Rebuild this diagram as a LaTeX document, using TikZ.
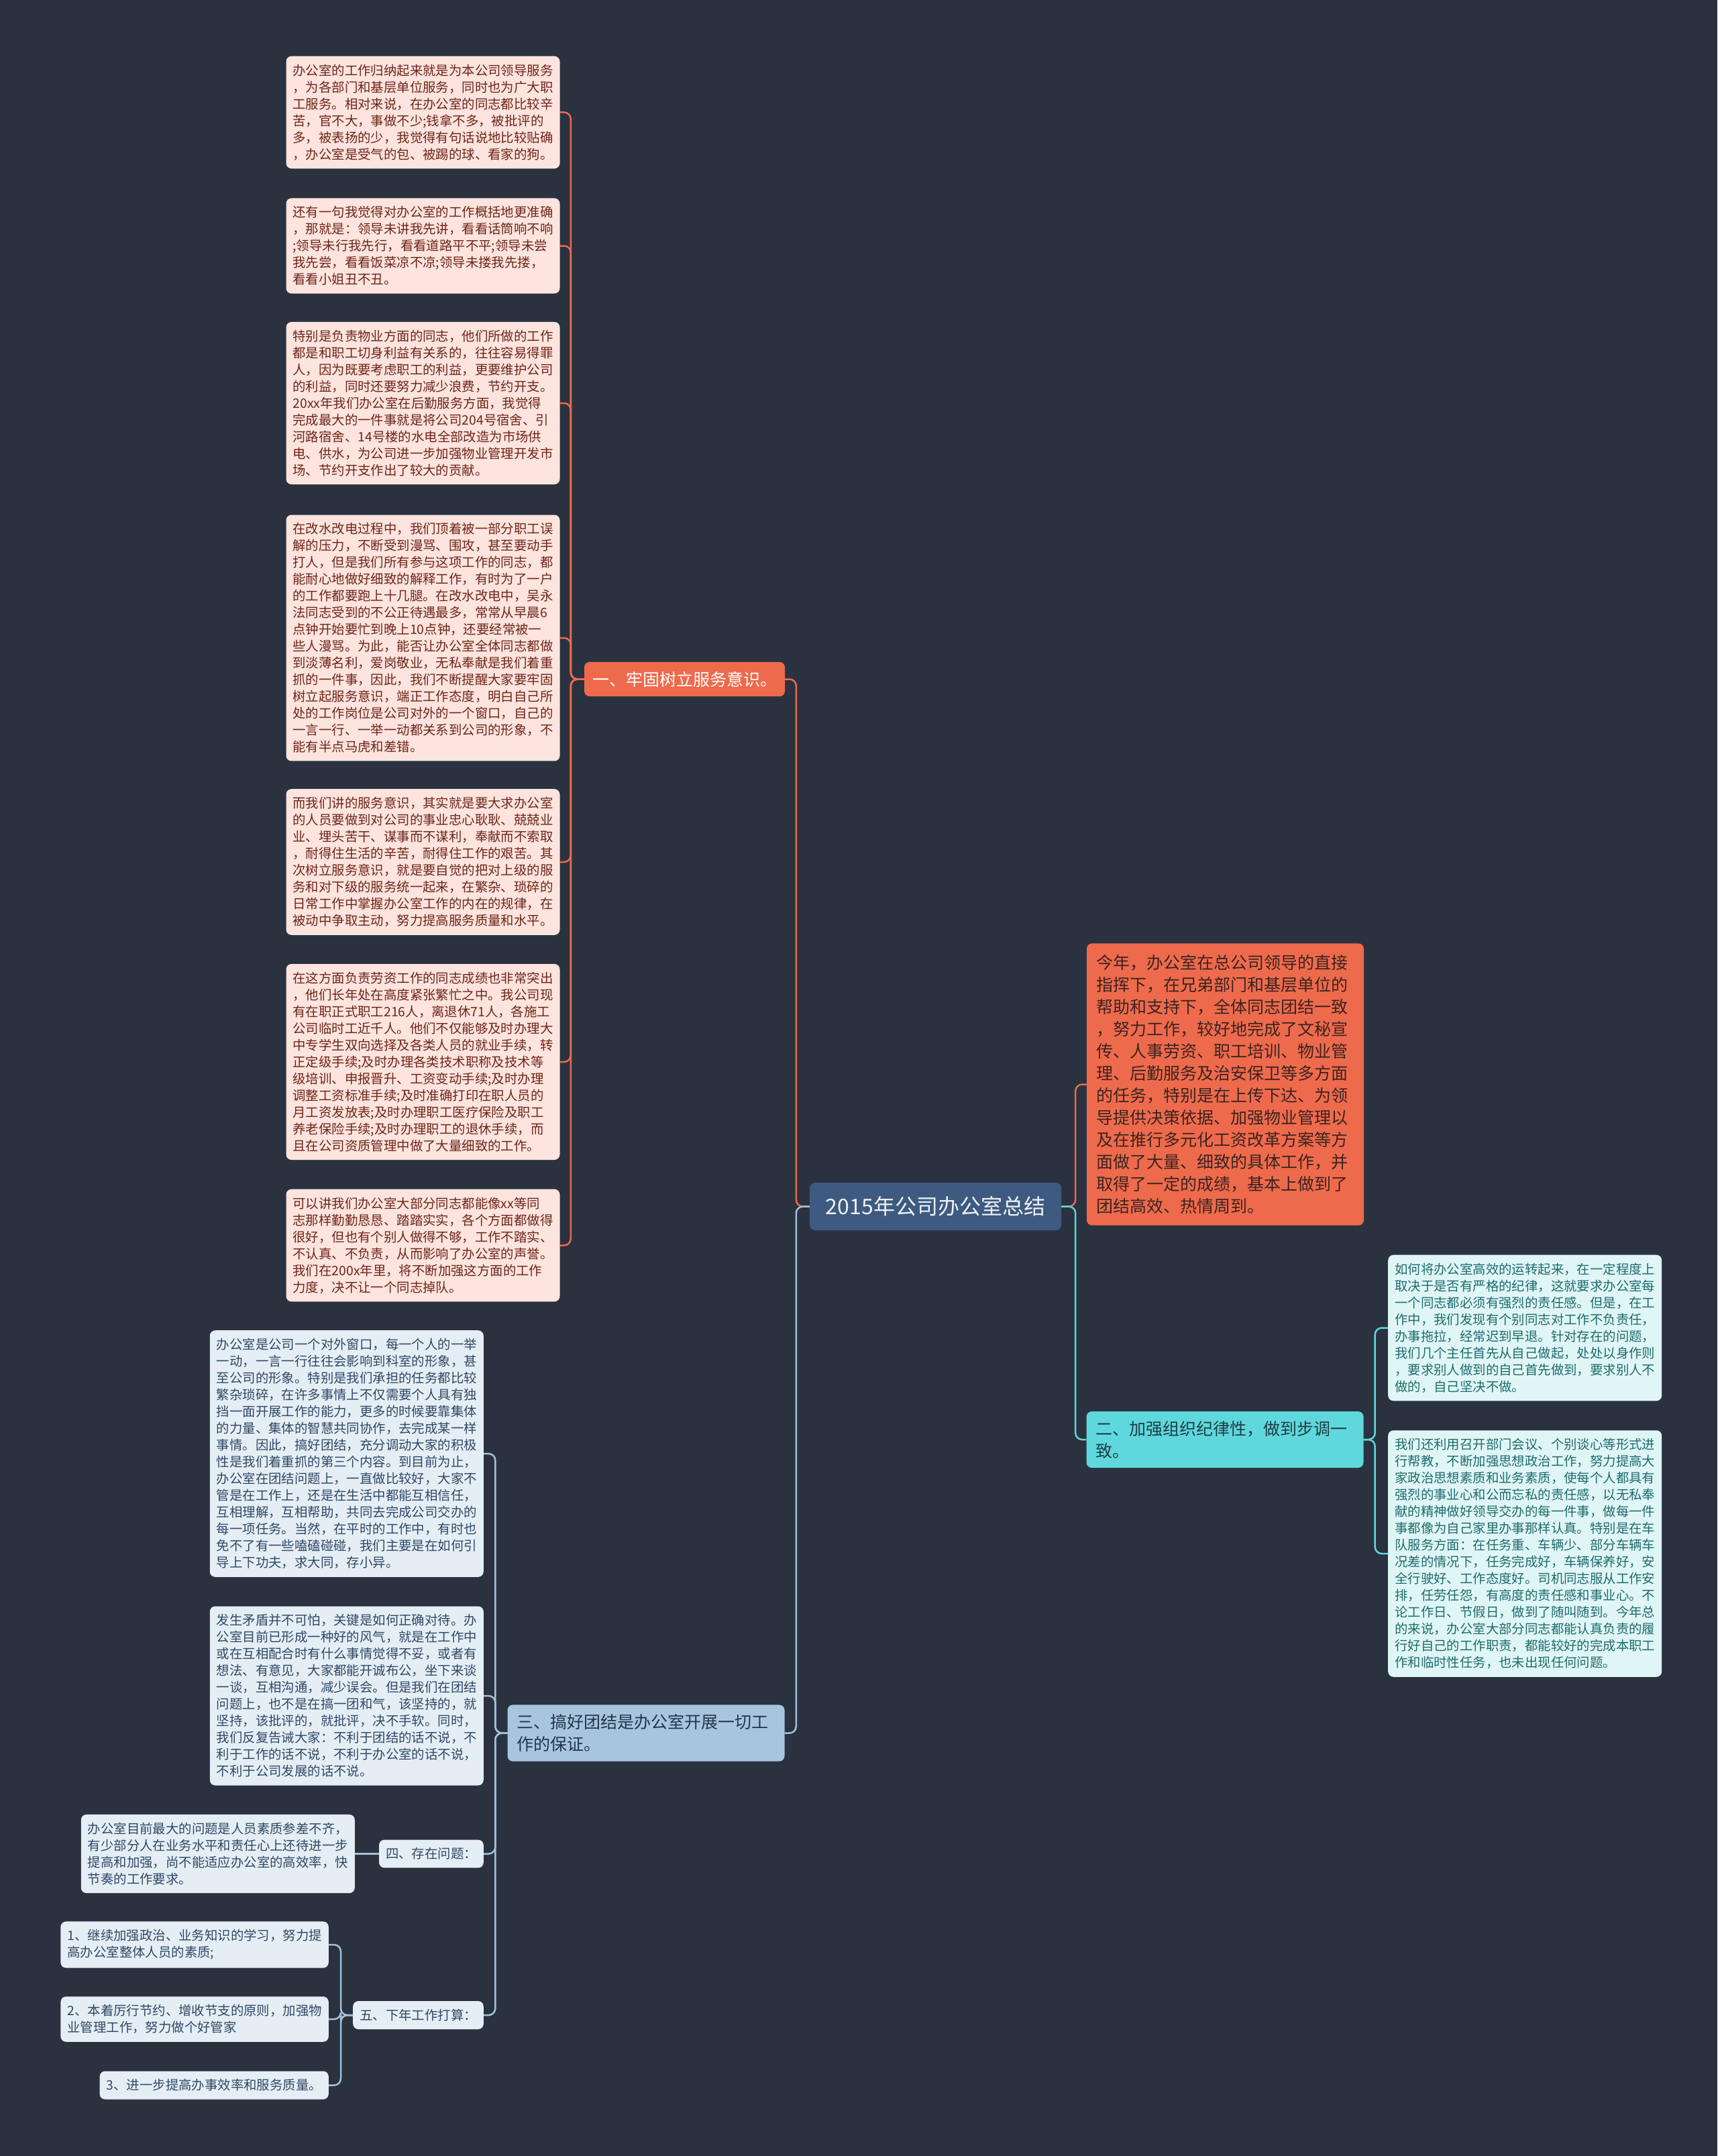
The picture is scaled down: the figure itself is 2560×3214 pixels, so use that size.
\documentclass[tikz,border=0pt]{standalone}
\usepackage{fontspec}
\newfontfamily\cjk{Noto Sans CJK SC}
\definecolor{bg}{HTML}{2A3240}
\definecolor{pinkfill}{HTML}{FDE4DE}
\definecolor{pinktext}{HTML}{6E2518}
\definecolor{orangeA}{HTML}{EE6A4C}
\definecolor{orangetext}{HTML}{3A2420}
\definecolor{rootfill}{HTML}{3E5A80}
\definecolor{roottext}{HTML}{EEF2F7}
\definecolor{cyanA}{HTML}{5ED8DC}
\definecolor{cyanfill}{HTML}{E0F6F6}
\definecolor{cyantext}{HTML}{1E6B6E}
\definecolor{cyanlabel}{HTML}{1F3D44}
\definecolor{bluefill}{HTML}{A8C5DF}
\definecolor{bluelabel}{HTML}{24364A}
\definecolor{bluebox}{HTML}{E6EEF5}
\definecolor{bluetext}{HTML}{2D4966}
\definecolor{blueline}{HTML}{A4C1DB}
\tikzset{
  base/.style={rounded corners=8pt, align=left},
  small/.style={font=\cjk\fontsize{19.4}{25}\selectfont, inner xsep=10pt, inner ysep=12pt},
  big/.style={font=\cjk\fontsize{25}{33}\selectfont, inner xsep=14pt, inner ysep=14pt},
  pinkbox/.style={base, small, fill=pinkfill, text=pinktext, text width=388pt},
  cyanbox/.style={base, small, fill=cyanfill, text=cyantext, text width=388pt},
  bluebox/.style={base, small, fill=bluebox, text=bluetext},
  bluewide/.style={bluebox, text width=388pt},
  rootbox/.style={rounded corners=8pt, fill=rootfill, text=roottext, font=\cjk\fontsize{32}{38}\selectfont, minimum width=375pt, minimum height=71pt, inner sep=0pt},
  br1/.style={base, big, fill=orangeA, text=white, inner xsep=12pt, inner ysep=14pt},
  mainbox/.style={base, big, fill=orangeA, text=orangetext, text width=385pt, inner ysep=17pt},
  br2/.style={base, big, fill=cyanA, text=cyanlabel, text width=385pt},
  br3/.style={base, big, fill=bluefill, text=bluelabel, text width=385pt},
  conn/.style={line width=2.5pt, rounded corners=10pt},
  oline/.style={conn, draw=orangeA},
  cline/.style={conn, draw=cyanA},
  bline/.style={conn, draw=blueline},
}
\begin{document}
\begin{tikzpicture}[x=1pt,y=-1pt]
\useasboundingbox (0,0) rectangle (2560,3214);
\fill[bg] (0,0) rectangle (2560,3214);

% root
\node[rootbox] (root) at (1394.5,1798.5) {2015年公司办公室总结};

% branch 1
\node[br1] (b1) at (1020.5,1012.5) {一、牢固树立服务意识。};

\node[pinkbox] (p1) at (630.5,167.5) {办公室的工作归纳起来就是为本公司领导服务\\，为各部门和基层单位服务，同时也为广大职\\工服务。相对来说，在办公室的同志都比较辛\\苦，官不大，事做不少;钱拿不多，被批评的\\多，被表扬的少，我觉得有句话说地比较贴确\\，办公室是受气的包、被踢的球、看家的狗。};
\node[pinkbox] (p2) at (630.5,366.5) {还有一句我觉得对办公室的工作概括地更准确\\，那就是：领导未讲我先讲，看看话筒响不响\\;领导未行我先行，看看道路平不平;领导未尝\\我先尝，看看饭菜凉不凉;领导未搂我先搂，\\看看小姐丑不丑。};
\node[pinkbox] (p3) at (630.5,601) {特别是负责物业方面的同志，他们所做的工作\\都是和职工切身利益有关系的，往往容易得罪\\人，因为既要考虑职工的利益，更要维护公司\\的利益，同时还要努力减少浪费，节约开支。\\20xx年我们办公室在后勤服务方面，我觉得\\完成最大的一件事就是将公司204号宿舍、引\\河路宿舍、14号楼的水电全部改造为市场供\\电、供水，为公司进一步加强物业管理开发市\\场、节约开支作出了较大的贡献。};
\node[pinkbox] (p4) at (630.5,951) {在改水改电过程中，我们顶着被一部分职工误\\解的压力，不断受到漫骂、围攻，甚至要动手\\打人，但是我们所有参与这项工作的同志，都\\能耐心地做好细致的解释工作，有时为了一户\\的工作都要跑上十几腿。在改水改电中，吴永\\法同志受到的不公正待遇最多，常常从早晨6\\点钟开始要忙到晚上10点钟，还要经常被一\\些人漫骂。为此，能否让办公室全体同志都做\\到淡薄名利，爱岗敬业，无私奉献是我们着重\\抓的一件事，因此，我们不断提醒大家要牢固\\树立起服务意识，端正工作态度，明白自己所\\处的工作岗位是公司对外的一个窗口，自己的\\一言一行、一举一动都关系到公司的形象，不\\能有半点马虎和差错。};
\node[pinkbox] (p5) at (630.5,1285) {而我们讲的服务意识，其实就是要大求办公室\\的人员要做到对公司的事业忠心耿耿、兢兢业\\业、埋头苦干、谋事而不谋利，奉献而不索取\\，耐得住生活的辛苦，耐得住工作的艰苦。其\\次树立服务意识，就是要自觉的把对上级的服\\务和对下级的服务统一起来，在繁杂、琐碎的\\日常工作中掌握办公室工作的内在的规律，在\\被动中争取主动，努力提高服务质量和水平。};
\node[pinkbox] (p6) at (630.5,1583) {在这方面负责劳资工作的同志成绩也非常突出\\，他们长年处在高度紧张繁忙之中。我公司现\\有在职正式职工216人，离退休71人，各施工\\公司临时工近千人。他们不仅能够及时办理大\\中专学生双向选择及各类人员的就业手续，转\\正定级手续;及时办理各类技术职称及技术等\\级培训、申报晋升、工资变动手续;及时办理\\调整工资标准手续;及时准确打印在职人员的\\月工资发放表;及时办理职工医疗保险及职工\\养老保险手续;及时办理职工的退休手续，而\\且在公司资质管理中做了大量细致的工作。};
\node[pinkbox] (p7) at (630.5,1856.5) {可以讲我们办公室大部分同志都能像xx等同\\志那样勤勤恳恳、踏踏实实，各个方面都做得\\很好，但也有个别人做得不够，工作不踏实、\\不认真、不负责，从而影响了办公室的声誉。\\我们在200x年里，将不断加强这方面的工作\\力度，决不让一个同志掉队。};

% right side
\node[mainbox] (m) at (1826.5,1616.5) {今年，办公室在总公司领导的直接\\指挥下，在兄弟部门和基层单位的\\帮助和支持下，全体同志团结一致\\，努力工作，较好地完成了文秘宣\\传、人事劳资、职工培训、物业管\\理、后勤服务及治安保卫等多方面\\的任务，特别是在上传下达、为领\\导提供决策依据、加强物业管理以\\及在推行多元化工资改革方案等方\\面做了大量、细致的具体工作，并\\取得了一定的成绩，基本上做到了\\团结高效、热情周到。};
\node[br2] (b2) at (1826,2146) {二、加强组织纪律性，做到步调一\\致。};
\node[cyanbox, anchor=west] (c1) at (2069,1979.5) {如何将办公室高效的运转起来，在一定程度上\\取决于是否有严格的纪律，这就要求办公室每\\一个同志都必须有强烈的责任感。但是，在工\\作中，我们发现有个别同志对工作不负责任，\\办事拖拉，经常迟到早退。针对存在的问题，\\我们几个主任首先从自己做起，处处以身作则\\，要求别人做到的自己首先做到，要求别人不\\做的，自己坚决不做。};
\node[cyanbox, anchor=west] (c2) at (2069,2316) {我们还利用召开部门会议、个别谈心等形式进\\行帮教，不断加强思想政治工作，努力提高大\\家政治思想素质和业务素质，使每个人都具有\\强烈的事业心和公而忘私的责任感，以无私奉\\献的精神做好领导交办的每一件事，做每一件\\事都像为自己家里办事那样认真。特别是在车\\队服务方面：在任务重、车辆少、部分车辆车\\况差的情况下，任务完成好，车辆保养好，安\\全行驶好、工作态度好。司机同志服从工作安\\排，任劳任怨，有高度的责任感和事业心。不\\论工作日、节假日，做到了随叫随到。今年总\\的来说，办公室大部分同志都能认真负责的履\\行好自己的工作职责，都能较好的完成本职工\\作和临时性任务，也未出现任何问题。};

% branch 3
\node[br3] (b3) at (963,2583.5) {三、搞好团结是办公室开展一切工\\作的保证。};
\node[bluewide, anchor=east] (d1) at (721,2167) {办公室是公司一个对外窗口，每一个人的一举\\一动，一言一行往往会影响到科室的形象，甚\\至公司的形象。特别是我们承担的任务都比较\\繁杂琐碎，在许多事情上不仅需要个人具有独\\挡一面开展工作的能力，更多的时候要靠集体\\的力量、集体的智慧共同协作，去完成某一样\\事情。因此，搞好团结，充分调动大家的积极\\性是我们着重抓的第三个内容。到目前为止，\\办公室在团结问题上，一直做比较好，大家不\\管是在工作上，还是在生活中都能互相信任，\\互相理解，互相帮助，共同去完成公司交办的\\每一项任务。当然，在平时的工作中，有时也\\免不了有一些嗑磕碰碰，我们主要是在如何引\\导上下功夫，求大同，存小异。};
\node[bluewide, anchor=east] (d2) at (721,2528) {发生矛盾并不可怕，关键是如何正确对待。办\\公室目前已形成一种好的风气，就是在工作中\\或在互相配合时有什么事情觉得不妥，或者有\\想法、有意见，大家都能开诚布公，坐下来谈\\一谈，互相沟通，减少误会。但是我们在团结\\问题上，也不是在搞一团和气，该坚持的，就\\坚持，该批评的，就批评，决不手软。同时，\\我们反复告诫大家：不利于团结的话不说，不\\利于工作的话不说，不利于办公室的话不说，\\不利于公司发展的话不说。};
\node[bluebox, anchor=east] (d3) at (721,2763.5) {四、存在问题：};
\node[bluebox, anchor=east] (d3a) at (529,2763.5) {办公室目前最大的问题是人员素质参差不齐，\\有少部分人在业务水平和责任心上还待进一步\\提高和加强，尚不能适应办公室的高效率，快\\节奏的工作要求。};
\node[bluebox, anchor=east] (d4) at (721,3004) {五、下年工作打算：};
\node[bluebox, anchor=east] (e1) at (490,2899) {1、继续加强政治、业务知识的学习，努力提\\高办公室整体人员的素质;};
\node[bluebox, anchor=east] (e2) at (490,3010) {2、本着厉行节约、增收节支的原则，加强物\\业管理工作，努力做个好管家};
\node[bluebox, anchor=east] (e3) at (490,3108.5) {3、进一步提高办事效率和服务质量。};

% connectors
\draw[oline] (root.west) -- ++(-20,0) |- (b1.east);
\draw[bline] (root.west) -- ++(-20,0) |- (b3.east);
\draw[oline] (root.east) -- ++(21,0) |- (m.west);
\draw[cline] (root.east) -- ++(21,0) |- (b2.west);
\foreach \c in {p1,p2,p3,p4,p5,p6,p7}
  \draw[oline] (b1.west) -- ++(-20,0) |- (\c.east);
\foreach \c in {c1,c2}
  \draw[cline] (b2.east) -- ++(17,0) |- (\c.west);
\foreach \c in {d1,d2,d3,d4}
  \draw[bline] (b3.west) -- ++(-18,0) |- (\c.east);
\draw[bline] (d3.west) -- (d3a.east);
\foreach \c in {e1,e2,e3}
  \draw[bline] (d4.west) -- ++(-18,0) |- (\c.east);
\end{tikzpicture}
\end{document}
